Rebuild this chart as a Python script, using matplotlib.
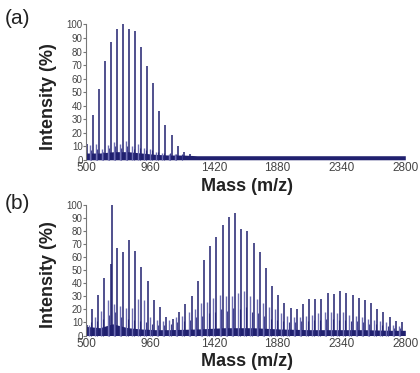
import numpy as np
import matplotlib.pyplot as plt

plt.rcParams['font.family'] = ['Liberation Sans', 'DejaVu Sans']

# panel (a): main oligomer series, weaker satellite series, baseline grass level
a_main_mz = [505, 548, 592, 635, 678, 722, 765, 809, 853, 897, 941, 984, 1028,
             1072, 1116, 1160, 1204, 1248]
a_main_int = [12, 33, 52, 73, 87, 97, 100, 97, 95, 83, 69, 57, 36, 26, 18, 10, 6, 4]
a_minor_mz = [527, 570, 614, 657, 700, 744, 787, 831, 875, 919, 963, 1006, 1050,
              1094, 1138]
a_minor_int = [11, 12, 8, 11, 13, 12, 14, 10, 12, 9, 8, 6, 5, 4, 4]
a_tert_mz = [537, 581, 624, 667, 711, 754, 798, 842, 886, 930, 973, 1017, 1061,
             1105, 1149, 1193]
a_tert_int = [7, 8, 6, 9, 10, 9, 10, 8, 9, 7, 7, 6, 5, 5, 4, 4]
a_base_mz = [500, 600, 700, 800, 900, 1000, 1100, 1200, 1300, 1500, 1800, 2100,
             2400, 2700, 2800]
a_base_lvl = [5, 5, 6, 6, 5, 4, 3.5, 3.5, 3, 3, 3, 3, 3, 3, 3]

# panel (b)
b_main_mz = [505, 543, 587, 632, 678, 688, 722, 765, 811, 854, 897, 943, 987,
             1030, 1076, 1124, 1170, 1215, 1261, 1304, 1350, 1394, 1439, 1485,
             1528, 1572, 1618, 1661, 1707, 1750, 1796, 1841, 1885, 1928, 1974,
             2017, 2063, 2106, 2152, 2196, 2241, 2285, 2330, 2374, 2420, 2463,
             2509, 2552, 2598, 2641, 2687, 2730, 2776]
b_main_int = [8, 20, 31, 44, 55, 100, 67, 64, 73, 65, 53, 42, 27, 22, 14, 13, 18,
              24, 30, 42, 58, 69, 76, 85, 91, 94, 82, 80, 71, 64, 52, 38, 31, 25,
              21, 20, 24, 28, 28, 28, 33, 32, 34, 33, 31, 29, 27, 25, 20, 18, 14,
              11, 10]
b_minor_mz = [520, 565, 610, 655, 700, 744, 788, 832, 876, 920, 964, 1008, 1052,
              1098, 1146, 1192, 1238, 1282, 1326, 1372, 1416, 1462, 1506, 1550,
              1594, 1640, 1684, 1728, 1772, 1818, 1862, 1906, 1950, 1996, 2040,
              2084, 2130, 2174, 2218, 2264, 2308, 2352, 2396, 2442, 2486, 2530,
              2576, 2620, 2664, 2708, 2752]
b_minor_int = [8, 14, 19, 27, 24, 23, 21, 21, 28, 27, 14, 12, 11, 12, 14, 15, 18,
               20, 25, 26, 29, 31, 30, 30, 33, 34, 30, 28, 25, 22, 20, 17, 15, 14,
               14, 15, 16, 17, 18, 18, 17, 18, 16, 15, 14, 13, 12, 11, 10, 8, 7]
b_tert_mz = [532, 576, 621, 666, 711, 755, 799, 843, 887, 931, 975, 1019, 1063,
             1110, 1158, 1204, 1250, 1294, 1338, 1384, 1428, 1474, 1518, 1562,
             1606, 1652, 1696, 1740, 1784, 1830, 1874, 1918, 1962, 2008, 2052,
             2096, 2142, 2186, 2230, 2276, 2320, 2364, 2408, 2454, 2498, 2542,
             2588, 2632, 2676, 2720, 2764]
b_tert_int = [10, 11, 13, 16, 18, 14, 13, 12, 11, 10, 9, 8, 8, 9, 10, 11, 12, 14,
              15, 17, 18, 20, 19, 21, 20, 22, 18, 17, 15, 13, 12, 11, 10, 10, 11,
              11, 12, 12, 13, 13, 12, 12, 11, 11, 10, 9, 9, 8, 7, 6, 6]
b_base_mz = [500, 600, 690, 800, 900, 1000, 1100, 1300, 1500, 1700, 1900, 2100,
             2300, 2500, 2700, 2800]
b_base_lvl = [7, 6, 9, 6, 5, 4.5, 4.5, 5, 6, 6, 5, 4.5, 4.5, 4.5, 4, 4]

xticks = [500, 960, 1420, 1880, 2340, 2800]
navy = '#20206f'
mid = '#3b3b8c'
light = '#7070b4'

fig = plt.figure(figsize=(4.2, 3.73), dpi=100)
ax_a = fig.add_axes([0.205, 0.568, 0.76, 0.370])
ax_b = fig.add_axes([0.205, 0.097, 0.76, 0.356])

panels = [
    (ax_a, a_main_mz, a_main_int, a_minor_mz, a_minor_int, a_tert_mz, a_tert_int,
     a_base_mz, a_base_lvl, -0.12),
    (ax_b, b_main_mz, b_main_int, b_minor_mz, b_minor_int, b_tert_mz, b_tert_int,
     b_base_mz, b_base_lvl, -0.125),
]
for ax, mz, it, mmz, mit, tmz, tit, bmz, blv, ypos in panels:
    ax.fill_between(bmz, 0, blv, color=navy, lw=0)
    ax.vlines(tmz, 0, tit, color=mid, lw=0.8)
    ax.vlines(mmz, 0, mit, color=light, lw=1.0)
    ax.vlines(mz, 0, it, color=navy, lw=1.1)
    ax.set_xlim(500, 2800)
    ax.set_ylim(-1, 101)
    ax.set_xticks(xticks)
    ax.set_yticks(range(0, 101, 10))
    for s in ['top', 'right', 'bottom']:
        ax.spines[s].set_visible(False)
    ax.spines['left'].set_color('#777777')
    ax.spines['left'].set_bounds(0, 100)
    ax.tick_params(axis='y', length=2, width=0.8, pad=0.5, labelsize=7,
                   colors='#777777', labelcolor='#444444')
    ax.tick_params(axis='x', length=0, pad=0.5, labelsize=8.5, labelcolor='#444444')
    ax.set_ylabel('Intensity (%)', fontsize=13, fontweight='bold', color='#222222')
    ax.yaxis.set_label_coords(-0.09, 0.47)
    ax.set_xlabel('Mass (m/z)', fontsize=13, fontweight='bold', color='#222222')
    ax.xaxis.set_label_coords(0.505, ypos)

fig.text(0.012, 0.975, '(a)', fontsize=15, va='top', color='#222222')
fig.text(0.012, 0.48, '(b)', fontsize=15, va='top', color='#222222')

fig.savefig('out.png', dpi=100)
